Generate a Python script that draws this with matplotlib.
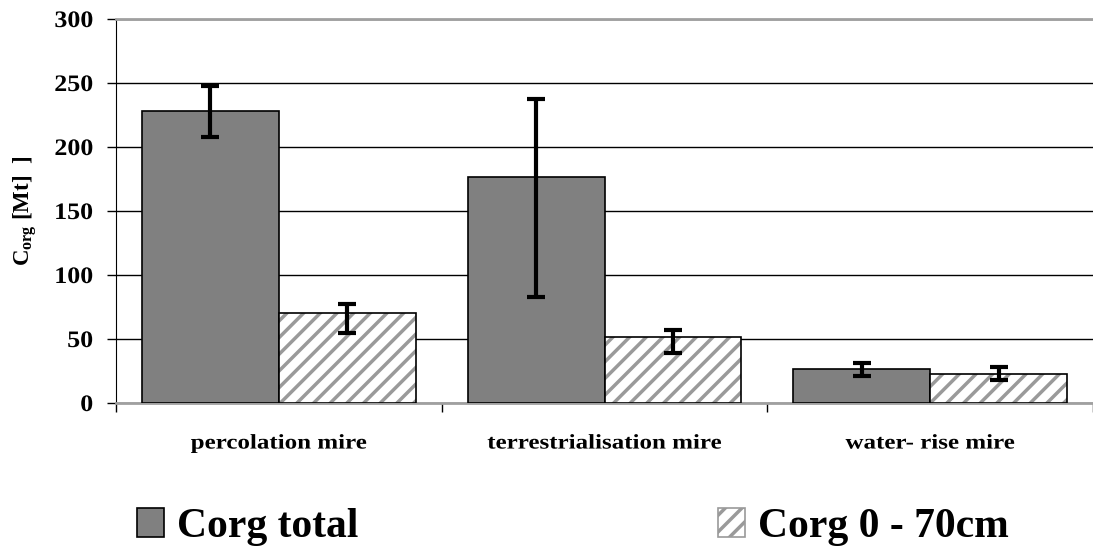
import matplotlib
matplotlib.use("Agg")
import matplotlib.pyplot as plt
import matplotlib.patches as mpatches
import matplotlib.patheffects as pe
from matplotlib.transforms import Affine2D
import numpy as np

# ============================================================
# DATA
# ============================================================
categories = ["percolation mire", "terrestrialisation mire", "water- rise mire"]
corg_total = [228, 176.5, 26.5]
corg_total_lo = [208, 83, 21]
corg_total_hi = [247.5, 237.5, 31.5]
corg_70 = [70, 51.5, 23]
corg_70_lo = [55, 39, 18]
corg_70_hi = [77, 57, 28.5]
yticks = [0, 50, 100, 150, 200, 250, 300]

# ============================================================
# PLOT CONFIGURATION
# ============================================================
plt.rcParams['font.family'] = 'Liberation Serif'
plt.rcParams['font.weight'] = 'bold'
plt.rcParams['mathtext.fontset'] = 'custom'
plt.rcParams['mathtext.rm'] = 'Liberation Serif:bold'
plt.rcParams['mathtext.bf'] = 'Liberation Serif:bold'
plt.rcParams['hatch.linewidth'] = 2.5
plt.rcParams['hatch.color'] = '#9a9a9a'


class Stretch(pe.AbstractPathEffect):
    """widen text horizontally, the reference font looks stretched"""
    def __init__(self, sx, anchor='center'):
        super().__init__()
        self.sx = sx
        self.anchor = anchor

    def draw_path(self, renderer, gc, tpath, affine, rgbFace=None):
        ext = tpath.get_extents(affine)
        cx = ext.x1 if self.anchor == 'right' else (ext.x0 + ext.x1) / 2
        new = affine + Affine2D().translate(-cx, 0).scale(self.sx, 1).translate(cx, 0)
        renderer.draw_path(gc, tpath, new, rgbFace)


fig = plt.figure(figsize=(10.93, 5.5), dpi=100)
ax = fig.add_axes([116 / 1093, 1 - 403 / 550, 1 - 116 / 1093, 384 / 550])

x = np.arange(len(categories))
w = 0.42
grey = '#808080'

ax.bar(x - w / 2, corg_total, w, color=grey, edgecolor='black', linewidth=1.2, zorder=3)
ax.bar(x + w / 2, corg_70, w, color='white', edgecolor='#9a9a9a', linewidth=0,
       hatch='//', zorder=3)
ax.bar(x + w / 2, corg_70, w, color='none', edgecolor='black', linewidth=1.2, zorder=4)


def err(vals, lo, hi):
    v = np.array(vals)
    return [v - np.array(lo), np.array(hi) - v]


ek = dict(fmt='none', ecolor='black', elinewidth=3, capsize=6.5, capthick=3, zorder=5)
ax.errorbar(x - w / 2, corg_total, yerr=err(corg_total, corg_total_lo, corg_total_hi), **ek)
ax.errorbar(x + w / 2, corg_70, yerr=err(corg_70, corg_70_lo, corg_70_hi), **ek)

ax.set_xlim(-0.5, 2.5)
ax.set_ylim(0, 300)
ax.set_yticks(yticks)
ax.tick_params(axis='y', direction='out', length=6.5, width=1, pad=10, labelsize=17)
for t in ax.get_yticklabels():
    t.set_fontweight('bold')
    t.set_path_effects([Stretch(1.1, 'right')])

ax.set_xticks(x)
ax.set_xticklabels(categories, fontsize=15, fontweight='bold')
ax.tick_params(axis='x', which='major', length=0, pad=22)
for t in ax.get_xticklabels():
    t.set_path_effects([Stretch(1.2)])
ax.set_xticks([-0.5, 0.5, 1.5, 2.5], minor=True)
ax.tick_params(axis='x', which='minor', direction='out', length=6.5, width=1)

ax.grid(axis='y', color='black', linewidth=1, zorder=0)
ax.set_axisbelow(True)
ax.spines['right'].set_visible(False)
ax.spines['top'].set_color('#a0a0a0')
ax.spines['top'].set_linewidth(2)
ax.spines['bottom'].set_color('#a0a0a0')
ax.spines['bottom'].set_linewidth(2)
ax.spines['left'].set_color('black')

ax.set_ylabel(r'C$_{\rm org}$ [Mt]  ]', fontsize=16.5, fontweight='bold')
ax.yaxis.set_label_coords(-0.078, 0.5)

# ============================================================
# LEGEND
# ============================================================
h1 = mpatches.Patch(facecolor=grey, edgecolor='black', linewidth=1.2, label='Corg total')
h2 = mpatches.Patch(facecolor='white', edgecolor='#9a9a9a', hatch='//', linewidth=1.2,
                    label='Corg 0 - 70cm')
lk = dict(frameon=False, prop={'family': 'Liberation Serif', 'weight': 'bold', 'size': 30},
          handlelength=0.65, handleheight=0.7, handletextpad=0.3, borderpad=0,
          borderaxespad=0)
fig.legend(handles=[h1], loc='center left', bbox_to_anchor=(137 / 1093, 1 - 527 / 550), **lk)
fig.legend(handles=[h2], loc='center left', bbox_to_anchor=(718 / 1093, 1 - 527 / 550), **lk)

fig.savefig('out.png', dpi=100)
